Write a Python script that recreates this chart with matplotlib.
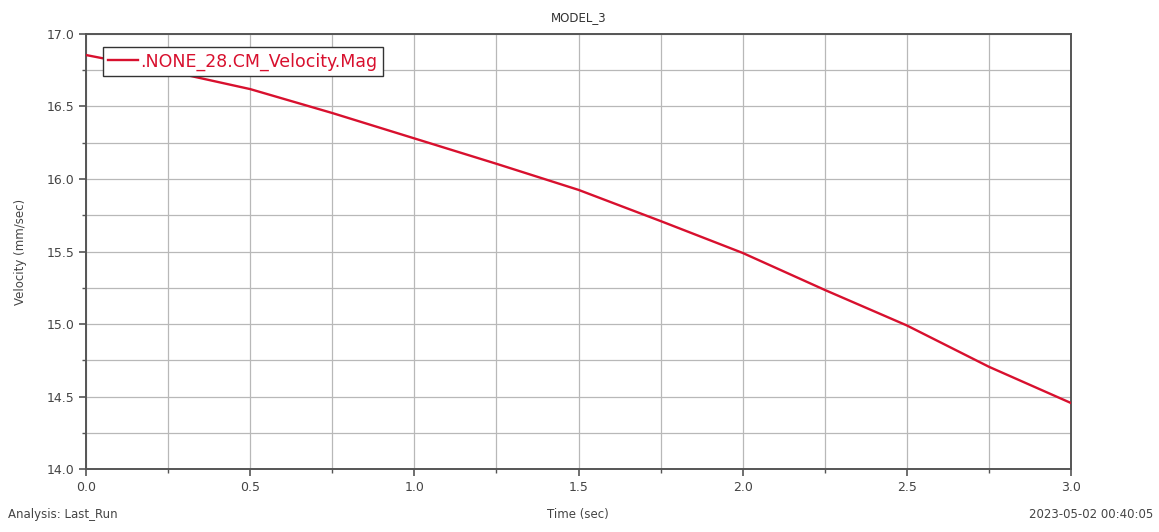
import matplotlib
matplotlib.use("Agg")
import matplotlib.pyplot as plt
from matplotlib.ticker import MultipleLocator, FormatStrFormatter

# Simulation output: CM velocity magnitude over time
time_sec = [0.0, 0.25, 0.5, 0.75, 1.0, 1.25, 1.5, 1.75, 2.0, 2.25, 2.5, 2.75, 3.0]
velocity_mm_s = [16.855, 16.745, 16.62, 16.455, 16.28, 16.105, 15.925,
                 15.71, 15.49, 15.235, 14.99, 14.705, 14.455]
series_name = ".NONE_28.CM_Velocity.Mag"

plt.rcParams['font.family'] = ['DejaVu Sans']
fig = plt.figure(figsize=(11.59, 5.32), dpi=100)
ax = fig.add_axes([0.0742, 0.1184, 0.8499, 0.8177])

red = '#d8102e'
ax.plot(time_sec, velocity_mm_s, color=red, lw=1.7, label=series_name, zorder=3)

ax.set_xlim(0.0, 3.0)
ax.set_ylim(14.0, 17.0)
ax.xaxis.set_major_locator(MultipleLocator(0.5))
ax.xaxis.set_minor_locator(MultipleLocator(0.25))
ax.yaxis.set_major_locator(MultipleLocator(0.5))
ax.yaxis.set_minor_locator(MultipleLocator(0.25))
ax.xaxis.set_major_formatter(FormatStrFormatter('%.1f'))
ax.yaxis.set_major_formatter(FormatStrFormatter('%.1f'))

ax.grid(which='both', color='#b8b8b8', lw=0.9, zorder=0)
for s in ax.spines.values():
    s.set_color('#555555')
    s.set_linewidth(1.4)
ax.tick_params(which='both', direction='out', colors='#555555',
               labelcolor='#444444', labelsize=9)
ax.tick_params(which='major', length=5, width=1.2)
ax.tick_params(which='minor', length=3, width=1.0)

ax.set_title("MODEL_3", fontsize=8.5, color='#333333', pad=9)
ax.set_ylabel("Velocity (mm/sec)", fontsize=8.5, color='#444444', labelpad=14)

leg = ax.legend(loc='upper left', bbox_to_anchor=(0.0172, 0.97), fontsize=12.5,
                frameon=True, fancybox=False, framealpha=1.0,
                handlelength=1.7, handletextpad=0.15,
                borderpad=0.3, borderaxespad=0.0)
leg.get_frame().set_edgecolor('#333333')
leg.get_frame().set_linewidth(1.0)
for t in leg.get_texts():
    t.set_color(red)

fig.text(0.007, 0.02, "Analysis: Last_Run", fontsize=8.5, color='#444444',
         ha='left', va='bottom')
fig.text(0.499, 0.02, "Time (sec)", fontsize=8.5, color='#444444',
         ha='center', va='bottom')
fig.text(0.995, 0.02, "2023-05-02 00:40:05", fontsize=8.5, color='#444444',
         ha='right', va='bottom')

fig.savefig("out.png", dpi=100, facecolor='white')
